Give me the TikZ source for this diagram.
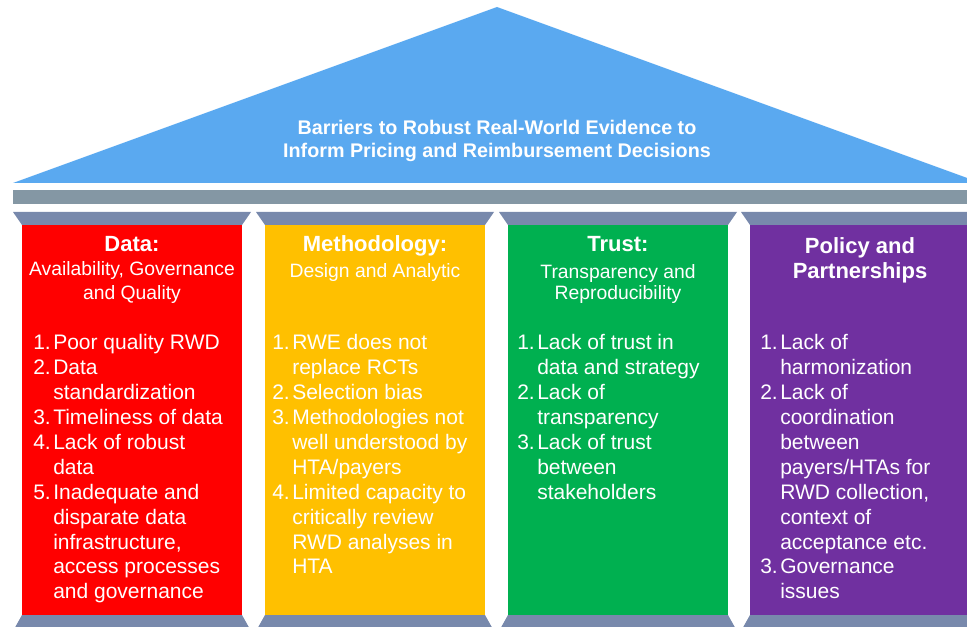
\documentclass[tikz,border=0pt]{standalone}
\usepackage{fontspec}
\setmainfont{Liberation Sans}
\definecolor{roofc}{HTML}{5AA9F0}
\definecolor{barc}{HTML}{8497A4}
\definecolor{capc}{HTML}{7889AC}
\definecolor{redc}{HTML}{FF0000}
\definecolor{yellowc}{HTML}{FFC000}
\definecolor{greenc}{HTML}{00B050}
\definecolor{purplec}{HTML}{7030A0}
\tikzset{
  titletext/.style={text=white, inner sep=0pt, anchor=base, font={\bfseries\fontsize{14.8}{18}\selectfont}},
  headtext/.style={text=white, inner sep=0pt, anchor=base, font={\bfseries\fontsize{16.5}{19}\selectfont}},
  subtext/.style={text=white, inner sep=0pt, anchor=base, font={\fontsize{14.5}{17}\selectfont}},
  listtext/.style={text=white, inner sep=0pt, anchor=base west, font={\fontsize{15.75}{18.75}\selectfont}},
}
\newcommand{\lst}[1]{\begin{tabular}[t]{@{}p{15pt}@{}l@{}}#1\end{tabular}}
\begin{document}
\begin{tikzpicture}[x=0.75pt,y=-0.75pt]
\useasboundingbox (0,0) rectangle (967,627);
\clip (0,0) rectangle (967,627);
% roof
\fill[roofc] (13,183) -- (497,7) -- (981,183) -- cycle;
\fill[barc] (13,190) rectangle (981,204);
% columns
\foreach \l/\c in {22/redc, 265/yellowc, 508/greenc, 750/purplec} {
  \fill[capc] (\l-9,212) -- (\l+229,212) -- (\l+220,225) -- (\l,225) -- cycle;
  \fill[\c] (\l,225) rectangle (\l+220,615);
  \fill[capc] (\l,615) -- (\l+220,615) -- (\l+229,631) -- (\l-9,631) -- cycle;
}
% title
\node[titletext] (t1) at (497,135) {Barriers to Robust Real-World Evidence to};
\node[titletext] (t2) at (497,158) {Inform Pricing and Reimbursement Decisions};
% headings
\node[headtext] (h1) at (132,252) {Data:};
\node[subtext] (s1a) at (132,276) {Availability, Governance};
\node[subtext] (s1b) at (132,300) {and Quality};
\node[headtext] (h2) at (375,252) {Methodology:};
\node[subtext] (s2a) at (375,277) {Design and Analytic};
\node[headtext] (h3) at (618,252) {Trust:};
\node[subtext] (s3a) at (618,278) {Transparency and};
\node[subtext] (s3b) at (618,300) {Reproducibility};
\node[headtext] (h4a) at (860,253) {Policy and};
\node[headtext] (h4b) at (860,279) {Partnerships};
% lists
\node[listtext] (l1) at (33,349) {\lst{
1.&Poor quality RWD\\
2.&Data\\
&standardization\\
3.&Timeliness of data\\
4.&Lack of robust\\
&data\\
5.&Inadequate and\\
&disparate data\\
&infrastructure,\\
&access processes\\
&and governance}};
\node[listtext] (l2) at (272,349) {\lst{
1.&RWE does not\\
&replace RCTs\\
2.&Selection bias\\
3.&Methodologies not\\
&well understood by\\
&HTA/payers\\
4.&Limited capacity to\\
&critically review\\
&RWD analyses in\\
&HTA}};
\node[listtext] (l3) at (517,349) {\lst{
1.&Lack of trust in\\
&data and strategy\\
2.&Lack of\\
&transparency\\
3.&Lack of trust\\
&between\\
&stakeholders}};
\node[listtext] (l4) at (760,349) {\lst{
1.&Lack of\\
&harmonization\\
2.&Lack of\\
&coordination\\
&between\\
&payers/HTAs for\\
&RWD collection,\\
&context of\\
&acceptance etc.\\
3.&Governance\\
&issues}};
\end{tikzpicture}
\end{document}
